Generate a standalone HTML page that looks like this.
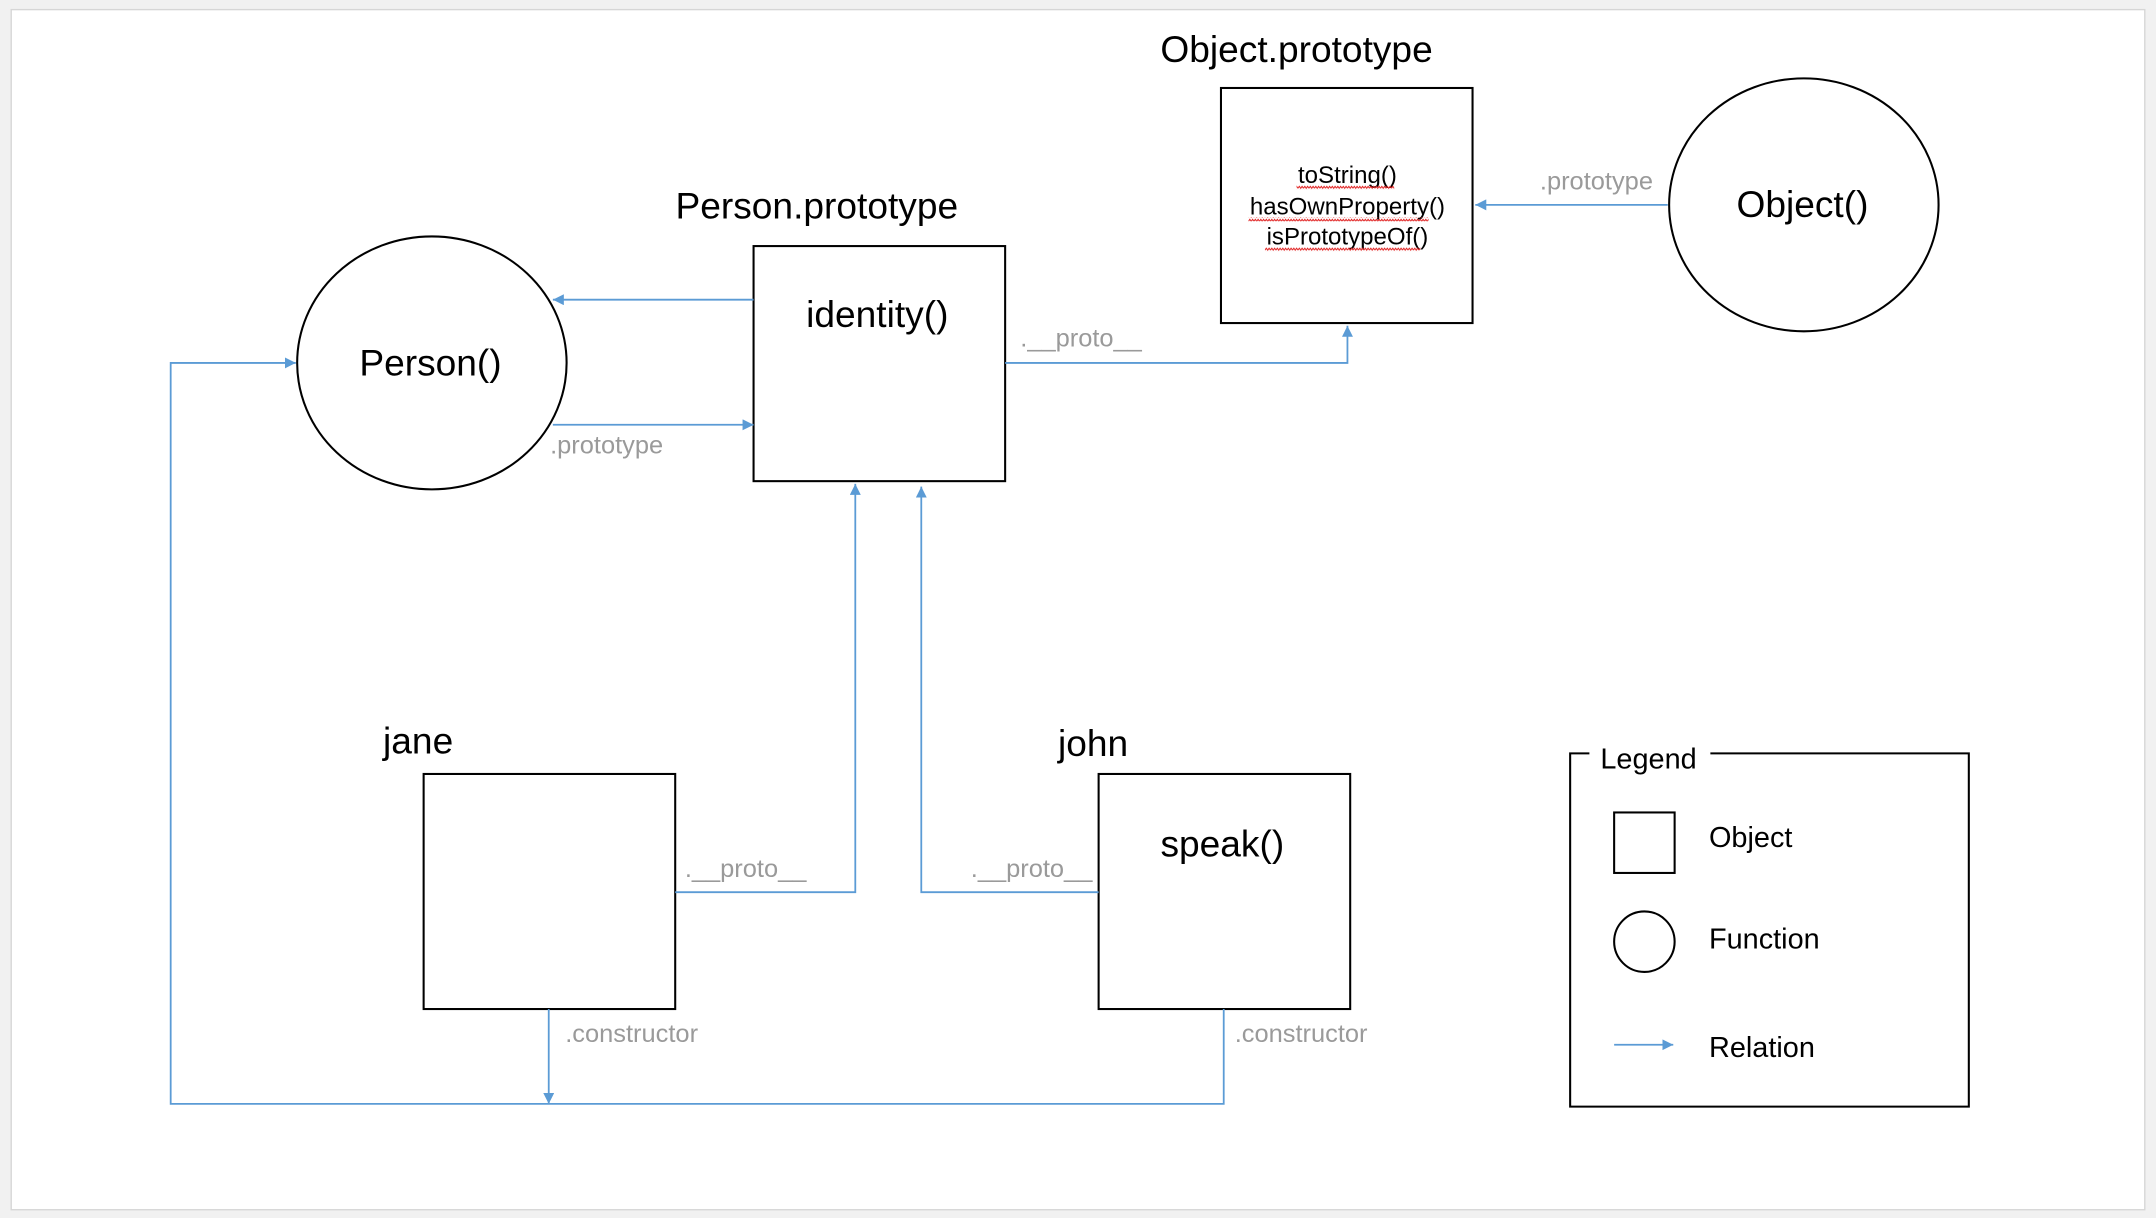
<!DOCTYPE html>
<html><head><meta charset="utf-8"><style>
html,body{margin:0;padding:0;background:#f1f1f1;}
svg{display:block;}
text{font-family:"Liberation Sans",sans-serif;}
</style></head><body>
<svg width="2156" height="1218" viewBox="0 0 1568 886" xmlns="http://www.w3.org/2000/svg">
<defs>
<marker id="a" viewBox="0 0 10 10" refX="10" refY="5" markerWidth="8" markerHeight="8" markerUnits="userSpaceOnUse" orient="auto">
<path d="M0,0 L10,5 L0,10 z" fill="#5b9bd5"/></marker>
<pattern id="w" width="4" height="3" patternUnits="userSpaceOnUse"><path d="M0,2 L1,0.5 L2,2 L3,0.5 L4,2" stroke="#e02020" stroke-width="0.7" fill="none"/></pattern>
</defs>
<rect x="8" y="7" width="1552" height="873" fill="#fff" stroke="#d6d6d6" stroke-width="1"/>
<g fill="none" stroke="#000" stroke-width="1.5">
<rect x="888" y="64" width="183" height="171"/>
<ellipse cx="1312" cy="149" rx="98" ry="92"/>
<rect x="548" y="179" width="183" height="171"/>
<ellipse cx="314" cy="264" rx="98" ry="92"/>
<rect x="308" y="563" width="183" height="171"/>
<rect x="799" y="563" width="183" height="171"/>
<rect x="1174" y="591" width="44" height="44"/>
<circle cx="1196" cy="685" r="22"/>
<path d="M1156,548 H1142 V805 H1432 V548 H1244"/>
</g>
<g fill="none" stroke="#5b9bd5" stroke-width="1.3">
<path d="M1213,149 H1073" marker-end="url(#a)"/>
<path d="M731,264 H980 V237" marker-end="url(#a)"/>
<path d="M548,218 H402" marker-end="url(#a)"/>
<path d="M402,309 H548" marker-end="url(#a)"/>
<path d="M491,649 H622 V352" marker-end="url(#a)"/>
<path d="M799,649 H670 V354" marker-end="url(#a)"/>
<path d="M399,734 V803" marker-end="url(#a)"/>
<path d="M890,734 V803 H124 V264 H215" marker-end="url(#a)"/>
<path d="M1174,760 H1217" marker-end="url(#a)"/>
</g>
<g fill="#000" font-size="27">
<text x="943" y="45" text-anchor="middle">Object.prototype</text>
<text x="594" y="159" text-anchor="middle">Person.prototype</text>
<text x="638" y="238" text-anchor="middle">identity()</text>
<text x="313" y="273" text-anchor="middle">Person()</text>
<text x="1311" y="158" text-anchor="middle">Object()</text>
<text x="304" y="548" text-anchor="middle">jane</text>
<text x="795" y="550" text-anchor="middle">john</text>
<text x="889" y="623" text-anchor="middle">speak()</text>
</g>
<g fill="#000" font-size="17.5" text-anchor="middle">
<text x="980" y="133">toString()</text>
<text x="980" y="156">hasOwnProperty()</text>
<text x="980" y="178">isPrototypeOf()</text>
</g>
<g fill="url(#w)">
<rect x="943" y="135" width="71" height="3"/>
<rect x="908" y="158" width="131" height="3"/>
<rect x="920" y="180" width="113" height="3"/>
</g>
<g fill="#000" font-size="21">
<text x="1164" y="559">Legend</text>
<text x="1243" y="616">Object</text>
<text x="1243" y="690">Function</text>
<text x="1243" y="769">Relation</text>
</g>
<g fill="#9a9a9a" font-size="18.5">
<text x="1120" y="138">.prototype</text>
<text x="742" y="252">.__proto__</text>
<text x="400" y="330">.prototype</text>
<text x="498" y="638">.__proto__</text>
<text x="706" y="638">.__proto__</text>
<text x="411" y="758">.constructor</text>
<text x="898" y="758">.constructor</text>
</g>
</svg>
</body></html>
